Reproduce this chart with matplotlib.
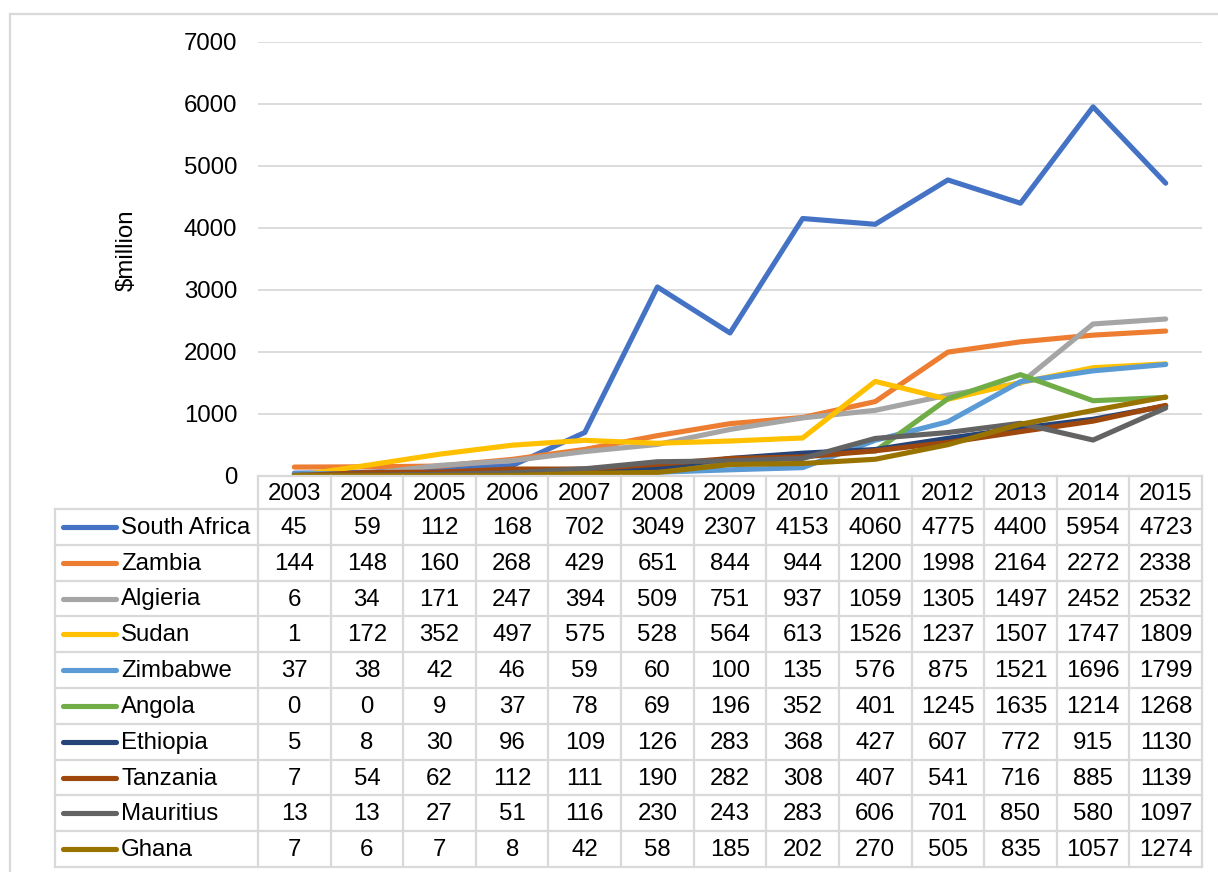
import matplotlib.pyplot as plt
from matplotlib.lines import Line2D

years = [2003, 2004, 2005, 2006, 2007, 2008, 2009, 2010, 2011, 2012, 2013, 2014, 2015]
countries = ["South Africa", "Zambia", "Algieria", "Sudan", "Zimbabwe",
             "Angola", "Ethiopia", "Tanzania", "Mauritius", "Ghana"]

south_africa = [45, 59, 112, 168, 702, 3049, 2307, 4153, 4060, 4775, 4400, 5954, 4723]
zambia = [144, 148, 160, 268, 429, 651, 844, 944, 1200, 1998, 2164, 2272, 2338]
algeria = [6, 34, 171, 247, 394, 509, 751, 937, 1059, 1305, 1497, 2452, 2532]
sudan = [1, 172, 352, 497, 575, 528, 564, 613, 1526, 1237, 1507, 1747, 1809]
zimbabwe = [37, 38, 42, 46, 59, 60, 100, 135, 576, 875, 1521, 1696, 1799]
angola = [0, 0, 9, 37, 78, 69, 196, 352, 401, 1245, 1635, 1214, 1268]
ethiopia = [5, 8, 30, 96, 109, 126, 283, 368, 427, 607, 772, 915, 1130]
tanzania = [7, 54, 62, 112, 111, 190, 282, 308, 407, 541, 716, 885, 1139]
mauritius = [13, 13, 27, 51, 116, 230, 243, 283, 606, 701, 850, 580, 1097]
ghana = [7, 6, 7, 8, 42, 58, 185, 202, 270, 505, 835, 1057, 1274]

series = [south_africa, zambia, algeria, sudan, zimbabwe,
          angola, ethiopia, tanzania, mauritius, ghana]
colors = ["#4472C4", "#ED7D31", "#A5A5A5", "#FFC000", "#5B9BD5",
          "#70AD47", "#264478", "#9E480E", "#636363", "#997300"]

plt.rcParams['font.family'] = ['Liberation Sans', 'DejaVu Sans']
W, H = 1218, 872
fig = plt.figure(figsize=(W / 100, H / 100), dpi=100)

grid_c = "#D9D9D9"
fs = 17.3
lw = 3.7

# plot area in pixels
x0, x1 = 258, 1202
y_top, y_zero = 42, 476
ax = fig.add_axes([x0 / W, 1 - y_zero / H, (x1 - x0) / W, (y_zero - y_top) / H])
n = len(years)
xs = list(range(n))
for vals, c in zip(series, colors):
    ax.plot(xs, vals, color=c, lw=lw, solid_capstyle='round', solid_joinstyle='round')
ax.set_xlim(-0.5, n - 0.5)
ax.set_ylim(0, 7000)
ax.set_yticks(range(0, 7001, 1000))
ax.set_xticks([])
ax.tick_params(axis='y', length=0, pad=15, labelsize=fs)
ax.grid(axis='y', color=grid_c, lw=1.3)
ax.set_axisbelow(True)
for s in ax.spines.values():
    s.set_visible(False)

fig.text(127 / W, 1 - 250 / H, "$million", rotation=90, fontsize=fs,
         ha='center', va='center')

# data table drawn in pixel coordinates
colw = (x1 - x0) / n
lab_left = 55
head_bot = 509
row_h = (867 - head_bot) / len(countries)
tbot = head_bot + row_h * len(countries)


def fx(px):
    return px / W


def fy(py):
    return 1 - py / H


def hline(y, xa, xb):
    fig.add_artist(Line2D([fx(xa), fx(xb)], [fy(y), fy(y)], color=grid_c, lw=1.6))


def vline(x, ya, yb):
    fig.add_artist(Line2D([fx(x), fx(x)], [fy(ya), fy(yb)], color=grid_c, lw=1.6))


# header row
hline(y_zero, x0, x1)
for i in range(n + 1):
    vline(x0 + i * colw, y_zero, tbot)
vline(lab_left, head_bot, tbot)
for r in range(len(countries) + 1):
    hline(head_bot + r * row_h, lab_left, x1)

for i, yr in enumerate(years):
    fig.text(fx(x0 + (i + 0.5) * colw), fy((y_zero + head_bot) / 2 + 1), str(yr),
             ha='center', va='center', fontsize=fs)

for r, (name, vals, c) in enumerate(zip(countries, series, colors)):
    yc = head_bot + (r + 0.5) * row_h
    fig.add_artist(Line2D([fx(63), fx(116)], [fy(yc), fy(yc)], color=c, lw=lw,
                          solid_capstyle='round'))
    fig.text(fx(121), fy(yc + 1), name, ha='left', va='center', fontsize=fs)
    for i, v in enumerate(vals):
        fig.text(fx(x0 + (i + 0.5) * colw), fy(yc + 1), str(v),
                 ha='center', va='center', fontsize=fs)

# outer chart border
fig.add_artist(Line2D([fx(10), fx(10)], [fy(14), 0], color=grid_c, lw=1.6))
fig.add_artist(Line2D([fx(10), 1], [fy(14), fy(14)], color=grid_c, lw=1.6))

fig.savefig("out.png", dpi=100)
